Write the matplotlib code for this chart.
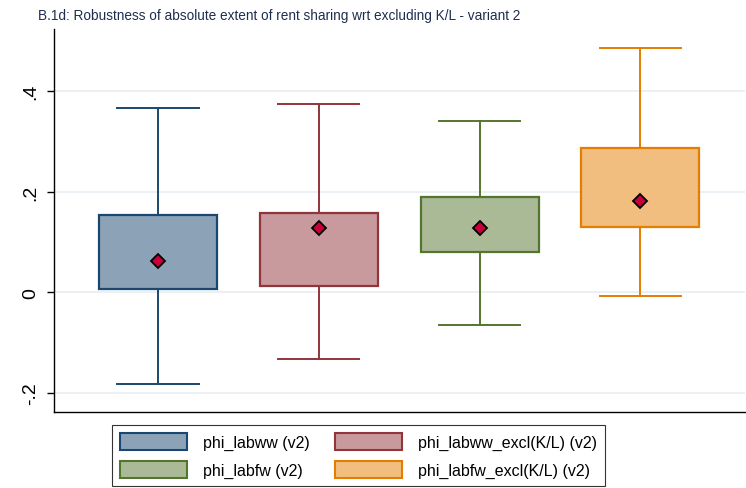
import matplotlib
matplotlib.use('Agg')
import matplotlib.pyplot as plt
from matplotlib.patches import Patch

plt.rcParams['font.family'] = ['Liberation Sans', 'DejaVu Sans']

# values
labels = ['phi_labww (v2)', 'phi_labww_excl(K/L) (v2)',
          'phi_labfw (v2)', 'phi_labfw_excl(K/L) (v2)']
whis_lo = [-0.183, -0.132, -0.065, -0.008]
q1 = [0.007, 0.013, 0.080, 0.130]
q3 = [0.153, 0.157, 0.190, 0.288]
whis_hi = [0.366, 0.375, 0.340, 0.486]
means = [0.062, 0.127, 0.128, 0.181]

edge_cols = ['#1a476f', '#90353b', '#55752f', '#e37e00']
fill_cols = ['#8ca3b7', '#c89a9d', '#aaba97', '#f1be80']
TITLE_COL = '#1e2d50'
GRID_COL = '#e6eef1'

fig = plt.figure(figsize=(7.46, 4.89), dpi=100)
ax = fig.add_axes([54.3 / 746, 1 - 412.7 / 489, (745 - 54.3) / 746, (412.7 - 30) / 489])

stats = []
for i in range(len(labels)):
    stats.append(dict(whislo=whis_lo[i], q1=q1[i], med=q1[i], q3=q3[i],
                      whishi=whis_hi[i], mean=means[i], fliers=[]))

bp = ax.bxp(stats, positions=[1, 2, 3, 4], widths=0.734, capwidths=0.505,
            patch_artist=True, showmeans=True, showfliers=False,
            medianprops=dict(visible=False),
            meanprops=dict(marker='D', markerfacecolor='#c8003a',
                           markeredgecolor='black', markeredgewidth=1.3,
                           markersize=7.2))
for i, box in enumerate(bp['boxes']):
    box.set_facecolor(fill_cols[i])
    box.set_edgecolor(edge_cols[i])
    box.set_linewidth(1.6)
    box.set_zorder(3)
for i in range(len(labels)):
    for ln in bp['whiskers'][2 * i:2 * i + 2] + bp['caps'][2 * i:2 * i + 2]:
        ln.set_color(edge_cols[i])
        ln.set_linewidth(1.4)
for m in bp['means']:
    m.set_zorder(4)

ax.set_xlim(1 - 0.645, 4.65)
ax.set_ylim(-0.2376, 0.524)
ax.set_yticks([-0.2, 0, 0.2, 0.4])
ax.set_yticklabels(['-.2', '0', '.2', '.4'], rotation=90, va='center',
                   fontsize=14)
ax.set_xticks([])
ax.yaxis.grid(True, color=GRID_COL, linewidth=1.2)
ax.set_axisbelow(True)
for s in ['top', 'right']:
    ax.spines[s].set_visible(False)
ax.spines['left'].set_linewidth(1.0)
ax.spines['bottom'].set_linewidth(1.0)
ax.tick_params(axis='y', length=5, width=1.0, pad=6)

fig.text(38 / 746, 1 - 16 / 489, 'B.1d: Robustness of absolute extent of rent sharing wrt excluding K/L - variant 2',
         ha='left', va='center', fontsize=9.8, color=TITLE_COL)

handles = [Patch(facecolor=fill_cols[i], edgecolor=edge_cols[i], linewidth=1.5,
                 label=labels[i]) for i in range(len(labels))]
order = [0, 2, 1, 3]
leg = fig.legend([handles[i] for i in order], [labels[i] for i in order],
                 ncol=2, loc='center', bbox_to_anchor=(358.7 / 746, 1 - 456.7 / 489),
                 fontsize=11.5, frameon=True, fancybox=False, edgecolor='black',
                 handlelength=4.2, handleheight=1.2, handletextpad=1.0,
                 columnspacing=1.6, labelspacing=0.7, borderpad=0.5)
leg.get_frame().set_linewidth(0.8)

fig.savefig('out.png', dpi=100)
